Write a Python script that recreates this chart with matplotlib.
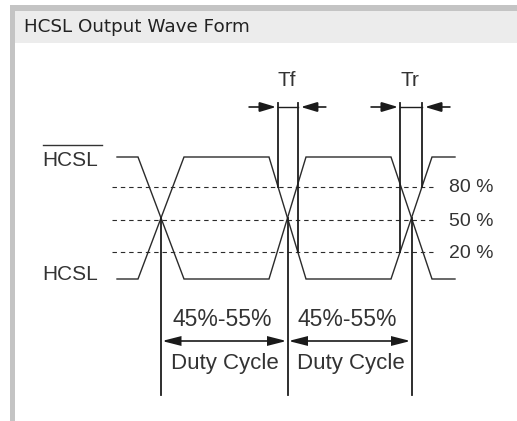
import matplotlib
matplotlib.use("Agg")
import matplotlib.pyplot as plt
from matplotlib.patches import Rectangle, FancyArrowPatch

# ---- data (diagram coordinates, pixels of a 517x421 canvas) ----
title = "HCSL Output Wave Form"
signal_labels = ["HCSL", "HCSL"]          # first one is drawn with an overline (inverted output)
level_high = 157
level_low = 279
threshold_labels = ["80 %", "50 %", "20 %"]
threshold_y = [187, 220, 252]
wave_start = 117
wave_end = 455
edge_start = [138, 269, 391]
edge_end = [184, 306, 432]
timing_labels = ["Tf", "Tr"]
timing_edge = [1, 2]                       # which transition each timing refers to
duty_labels = ["45%-55%", "45%-55%"]
duty_caption = "Duty Cycle"

INK = "#2b2b2b"
TXT = "#333333"

fig = plt.figure(figsize=(5.17, 4.21), dpi=100)
ax = fig.add_axes([0, 0, 1, 1])
ax.set_xlim(0, 517)
ax.set_ylim(421, 0)
ax.axis("off")

# frame + title bar
ax.add_patch(Rectangle((10, 5), 507, 6, color="#c4c4c4", lw=0))
ax.add_patch(Rectangle((10, 5), 5, 416, color="#c4c4c4", lw=0))
ax.add_patch(Rectangle((15, 11), 502, 32, color="#ececec", lw=0))
ax.text(24, 27, title, fontsize=13.2, family="DejaVu Sans", color="#222222",
        va="center", ha="left")

# threshold dotted lines
for y in threshold_y:
    ax.plot([112, 433], [y, y], color=INK, lw=0.8, ls=(0, (4, 3.5)))
for lab, y in zip(threshold_labels, threshold_y):
    ax.text(449, y + 1, lab, fontsize=14, family="Liberation Sans", color=TXT,
            va="center", ha="left")

# waveforms
def wave(start_high):
    xs, ys = [wave_start], [level_high if start_high else level_low]
    state = start_high
    for s, e in zip(edge_start, edge_end):
        xs += [s, e]
        ys += [level_high if state else level_low, level_low if state else level_high]
        state = not state
    xs.append(wave_end)
    ys.append(level_high if state else level_low)
    return xs, ys

for start_high in (True, False):
    xs, ys = wave(start_high)
    ax.plot(xs, ys, color=INK, lw=1.0, solid_joinstyle="miter")

# signal labels
ax.text(42, 161, signal_labels[0], fontsize=15, family="Liberation Sans",
        color=TXT, va="center", ha="left")
ax.plot([43, 102], [144.5, 144.5], color=TXT, lw=1.0)
ax.text(42, 275, signal_labels[1], fontsize=15, family="Liberation Sans",
        color=TXT, va="center", ha="left")

# crossings (50%) and duty cycle verticals
mid_y = (level_high + level_low) / 2
cross_x = [(s + e) / 2 for s, e in zip(edge_start, edge_end)]
for cx in cross_x:
    ax.plot([cx, cx], [mid_y, 395], color="#1e1e1e", lw=1.3)

def edge_x_at(i, y):
    s, e = edge_start[i], edge_end[i]
    if i % 2 == 1:   # falling edge of HCSL: high -> low
        f = (y - level_high) / (level_low - level_high)
    else:            # rising edge of HCSL: low -> high
        f = (level_low - y) / (level_low - level_high)
    return s + (e - s) * f

def arrow(p0, p1, style, hl=10, hw=3.0):
    a = FancyArrowPatch(p0, p1, arrowstyle=f"{style},head_length={hl},head_width={hw}",
                        mutation_scale=1, shrinkA=0, shrinkB=0, color="#1a1a1a",
                        lw=1.2, joinstyle="miter")
    ax.add_patch(a)

# Tf / Tr markers
y_top, y_arr = 103, 107
for lab, i in zip(timing_labels, timing_edge):
    x80 = edge_x_at(i, threshold_y[0])
    x20 = edge_x_at(i, threshold_y[2])
    xl, xr = min(x80, x20), max(x80, x20)
    ax.plot([x80, x80], [y_top, threshold_y[0]], color="#1e1e1e", lw=1.3)
    ax.plot([x20, x20], [y_top, threshold_y[2]], color="#1e1e1e", lw=1.3)
    ax.plot([xl, xr], [y_arr, y_arr], color="#1e1e1e", lw=1.0)
    arrow((xl - 29, y_arr), (xl - 2, y_arr), "-|>")
    arrow((xr + 28, y_arr), (xr + 3, y_arr), "-|>")
    ax.text((xl + xr) / 2 - 1, 81, lab, fontsize=15, family="Liberation Sans",
            color=TXT, va="center", ha="center")

# duty cycle arrows + labels
for k, lab in enumerate(duty_labels):
    x0, x1 = cross_x[k], cross_x[k + 1]
    arrow((x0 + 1, 341), (x1 - 1, 341), "<|-|>", hl=11, hw=2.8)
    ax.text((x0 + x1) / 2 - 2, 320, lab, fontsize=16.5, family="Liberation Sans",
            color=TXT, va="center", ha="center")
    ax.text((x0 + x1) / 2 + 1, 363, duty_caption, fontsize=16,
            family="Liberation Sans", color=TXT, va="center", ha="center")

fig.savefig("out.png", dpi=100)
